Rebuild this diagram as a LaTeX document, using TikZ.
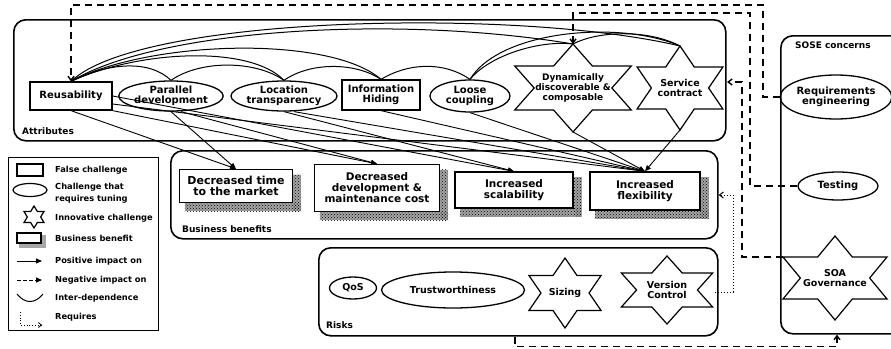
\documentclass[tikz,border=0pt]{standalone}
\usepackage{fontspec}
\setmainfont{DejaVu Sans}
\usetikzlibrary{shapes.geometric,arrows.meta,patterns,calc,backgrounds}
\newcommand{\mystar}[3]{%
  \draw[shift={#1}, xscale=#3, line width=1.2pt, line join=miter]
    (90:#2) -- (60:{#2*0.577}) -- (30:#2) -- (0:{#2*0.577}) -- (-30:#2) -- (-60:{#2*0.577})
    -- (-90:#2) -- (-120:{#2*0.577}) -- (-150:#2) -- (180:{#2*0.577}) -- (150:#2) -- (120:{#2*0.577}) -- cycle;}
\begin{document}
\begin{tikzpicture}[x=1pt,y=-1pt,
  group/.style={draw, line width=1.6pt, rounded corners=12pt, anchor=north west, inner sep=0},
  lbl/.style={font=\fontsize{9}{10}\selectfont\bfseries, inner sep=0, anchor=west},
  attr/.style={font=\fontsize{10}{10}\selectfont\bfseries, align=center, inner sep=1pt},
  startxt/.style={font=\fontsize{9.5}{10}\selectfont\bfseries, align=center, inner sep=1pt},
  rectnode/.style={attr, draw, line width=1.3pt},
  ellnode/.style={attr, draw, ellipse, line width=1.3pt, inner sep=0},
  benefit/.style={draw, line width=1.3pt, fill=white, font=\fontsize{10.5}{11}\selectfont\bfseries, align=center, inner sep=1pt},
  shadowfill/.style={pattern=crosshatch dots, pattern color=black},
  posarr/.style={-{Triangle[length=6pt,width=5pt]}, line width=0.9pt},
  negarr/.style={-{Straight Barb[length=4pt,width=6pt]}, line width=1.4pt, dash pattern=on 7pt off 5pt},
  deparr/.style={line width=1pt},
  reqarr/.style={-{Straight Barb[length=4pt,width=6pt]}, line width=1pt, dotted},
  legtxt/.style={font=\fontsize{8.3}{9}\selectfont\bfseries, inner sep=0, anchor=west}]
\useasboundingbox (0,0) rectangle (891,348);

% group boxes
\node[group, minimum width=712, minimum height=121] (attrbox) at (13,19) {};
\node[group, minimum width=547, minimum height=88] (busbox) at (170,150) {};
\node[group, minimum width=399, minimum height=88] (riskbox) at (318,247) {};
\node[group, minimum width=125, minimum height=298] (sosebox) at (780,35) {};
\node[draw, line width=1.4pt, anchor=north west, minimum width=150, minimum height=173, inner sep=0] (legend) at (8,157) {};

\node[lbl] (lattr) at (22,131) {Attributes};
\node[lbl] (lbus) at (182,229) {Business benefits};
\node[lbl] (lrisk) at (326,325) {Risks};
\node[lbl] (lsose) at (795,45) {SOSE concerns};

% attributes
\node[rectnode, minimum width=82, minimum height=28] (reu) at (71,96) {Reusability};
\node[ellnode, minimum width=104, minimum height=30] (par) at (171,96) {Parallel\\development};
\node[ellnode, minimum width=106, minimum height=30] (loc) at (284,96) {Location\\transparency};
\node[rectnode, minimum width=78, minimum height=30] (inf) at (381,95) {Information\\Hiding};
\node[ellnode, minimum width=80, minimum height=32] (loo) at (470,96) {Loose\\coupling};
\node[startxt, font=\fontsize{9}{10}\selectfont\bfseries] (dyn) at (573,88) {Dynamically\\discoverable \&\\composable};
\mystar{(573,88)}{44}{1.53}
\node[startxt] (srv) at (680,88) {Service\\contract};
\mystar{(680,88)}{42}{1.18}
\coordinate (dynT) at (573,44);
\coordinate (dynB) at (573,132);
\coordinate (srvT) at (680,46);
\coordinate (srvB) at (680,130);
\coordinate (srvR) at (727,82);

% benefits
\node[benefit, minimum width=113, minimum height=33, font=\fontsize{11}{11.5}\selectfont\bfseries] (dt) at (236,186) {Decreased time\\to the market};
\node[benefit, minimum width=125, minimum height=47] (dd) at (377,188) {Decreased\\development \&\\maintenance cost};
\node[benefit, minimum width=118, minimum height=36] (is) at (514,190) {Increased\\scalability};
\node[benefit, minimum width=110, minimum height=38] (if) at (645,191) {Increased\\flexibility};
\begin{scope}[on background layer]
  \foreach \n in {dt,dd,is,if}{
    \fill[black!35] ($(\n.north east)+(0,6)$) rectangle ($(\n.south east)+(8,8)$);
    \fill[black!35] ($(\n.south west)+(6,0)$) rectangle ($(\n.south east)+(8,8)$);
    \fill[shadowfill] ($(\n.north east)+(0,6)$) rectangle ($(\n.south east)+(8,8)$);
    \fill[shadowfill] ($(\n.south west)+(6,0)$) rectangle ($(\n.south east)+(8,8)$);
  }
\end{scope}

% risks
\node[ellnode, minimum width=47, minimum height=22, font=\fontsize{9.5}{10}\selectfont\bfseries] (qos) at (353,288) {QoS};
\node[ellnode, minimum width=143, minimum height=36, font=\fontsize{9.5}{10}\selectfont\bfseries] (tru) at (453,290) {Trustworthiness};
\node[startxt] (siz) at (565,293) {Sizing};
\mystar{(565,293)}{35}{1.19}
\node[startxt] (ver) at (667,290) {Version\\Control};
\mystar{(667,290)}{34}{1.55}
\coordinate (verR) at (715,292);

% SOSE concerns
\node[ellnode, minimum width=108, minimum height=44] (req) at (836,97) {Requirements\\engineering};
\node[ellnode, minimum width=80, minimum height=28] (tst) at (838,186) {Testing};
\node[startxt] (soa) at (835,278) {SOA\\Governance};
\mystar{(835,278)}{42}{1.43}
\coordinate (soaUL) at (783,257);

% inter-dependence arcs
\draw[deparr] (reu.north) .. controls (140,15) and (520,8) .. (srvT);
\draw[deparr] (reu.north) .. controls (160,28) and (400,15) .. (dynT);
\draw[deparr] (reu.north) .. controls (150,40) and (330,35) .. (inf.north);
\draw[deparr] (reu.north) .. controls (140,50) and (250,45) .. (loc.north);
\draw[deparr] (reu.north) .. controls (110,62) and (150,60) .. (par.north);
\draw[deparr] (par.north) .. controls (200,60) and (255,60) .. (loc.north);
\draw[deparr] (loc.north) .. controls (310,62) and (355,62) .. (inf.north);
\draw[deparr] (inf.north) .. controls (410,62) and (445,62) .. (loo.north);
\draw[deparr] (loo.north) .. controls (490,55) and (540,40) .. (dynT);
\draw[deparr] (loo.north) .. controls (500,30) and (620,20) .. (srvT);
\draw[deparr] (dynT) .. controls (600,30) and (650,30) .. (srvT);

% positive impacts
\draw[posarr] (reu.south) -- (dt.north);
\draw[posarr] (reu.south east) -- (dd.north);
\draw[posarr] (reu.east) -- (is.north);
\draw[posarr] ($(reu.east)+(0,8)$) -- (if.north);
\draw[posarr] (par.south) -- (dt.north);
\draw[posarr] ($(par.south)+(10,0)$) -- (dd.north);
\draw[posarr] (loc.south) -- (is.north);
\draw[posarr] ($(loc.south)+(10,0)$) -- (if.north);
\draw[posarr] (inf.south) -- (if.north);
\draw[posarr] (loo.south) -- (if.north);
\draw[posarr] (dynB) -- (if.north);
\draw[posarr] (srvB) -- (if.north);

% dashed / dotted connections
\draw[negarr] (req.west) -| (763,5) -| (reu.north);
\draw[negarr] (tst.west) -| (750,13) -| (dynT);
\draw[negarr] (soaUL) -| (742,82) -- (srvR);
\draw[negarr] ($(riskbox.south west)+(197,0)$) -- ++(0,10) -| (sosebox.south -| 837,0);
\draw[reqarr] (verR) -- (733,292) |- (busbox.east |- 0,195);

% legend
\node[draw, line width=1.2pt, minimum width=26, minimum height=12, inner sep=0] (lgr) at (30,170) {};
\node[legtxt] (lt1) at (55,170) {False challenge};
\node[draw, ellipse, line width=1.2pt, minimum width=34, minimum height=13, inner sep=0] (lge) at (30,190) {};
\node[legtxt] (lt2) at (55,187) {Challenge that};
\node[legtxt] (lt2b) at (55,199) {requires tuning};
\coordinate (lgs) at (34,217);
\mystar{(34,217)}{11}{1.05}
\node[legtxt] (lt3) at (55,218) {Innovative challenge};
\node[draw, line width=1.2pt, fill=white, minimum width=24, minimum height=10, inner sep=0] (lgb) at (29,238) {};
\begin{scope}[on background layer]
  \fill[black!35] ($(lgb.north east)+(0,3)$) rectangle ($(lgb.south east)+(4,4)$);
  \fill[black!35] ($(lgb.south west)+(3,0)$) rectangle ($(lgb.south east)+(4,4)$);
\end{scope}
\node[legtxt] (lt4) at (55,238) {Business benefit};
\coordinate (lp1) at (17,261); \coordinate (lp2) at (42,261);
\draw[posarr] (lp1) -- (lp2);
\node[legtxt] (lt5) at (55,261) {Positive impact on};
\coordinate (ln1) at (17,280); \coordinate (ln2) at (42,280);
\draw[-{Triangle[length=6pt,width=5pt]}, line width=0.9pt, dash pattern=on 4pt off 2pt] (ln1) -- (ln2);
\node[legtxt] (lt6) at (55,280) {Negative impact on};
\coordinate (ld1) at (17,294); \coordinate (ld2) at (43,294);
\draw[deparr] (ld1) .. controls (25,304) and (35,304) .. (ld2);
\node[legtxt] (lt7) at (55,298) {Inter-dependence};
\coordinate (lr1) at (20,312); \coordinate (lr2) at (42,325);
\draw[-{Straight Barb[length=3pt,width=5pt]}, line width=0.8pt, dotted] (lr1) |- (lr2);
\node[legtxt] (lt8) at (55,317) {Requires};
\end{tikzpicture}
\end{document}
